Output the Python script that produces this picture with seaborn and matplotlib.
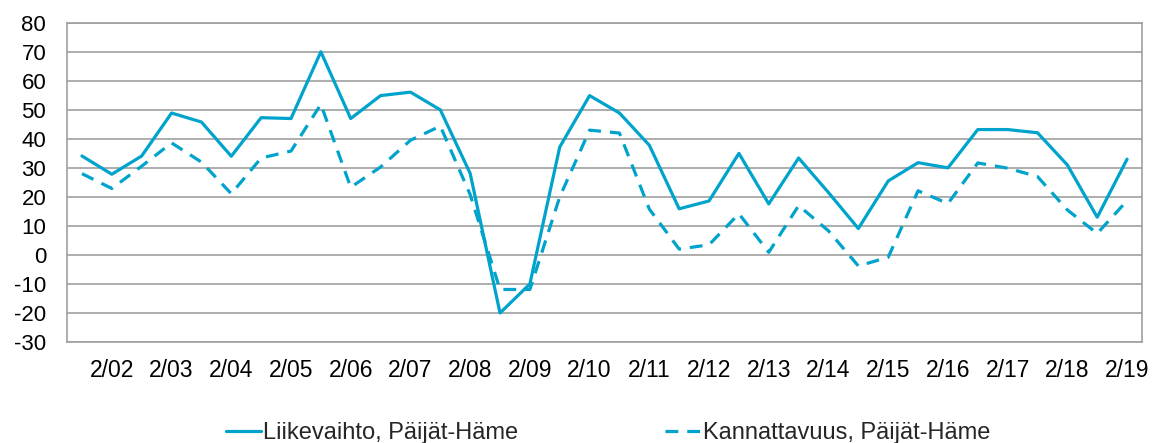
import matplotlib
matplotlib.use("Agg")
import matplotlib.pyplot as plt
import seaborn as sns
import pandas as pd

# half-year survey rounds, 8/01 ... 2/19
periods = ['8/01', '2/02', '8/02', '2/03', '8/03', '2/04', '8/04', '2/05', '8/05',
           '2/06', '8/06', '2/07', '8/07', '2/08', '8/08', '2/09', '8/09', '2/10',
           '8/10', '2/11', '8/11', '2/12', '8/12', '2/13', '8/13', '2/14', '8/14',
           '2/15', '8/15', '2/16', '8/16', '2/17', '8/17', '2/18', '8/18', '2/19']

liikevaihto = [34.1, 27.8, 34.1, 48.9, 45.8, 34.0, 47.3, 47.0, 70.0, 47.0, 54.9, 56.1,
               50.0, 28.1, -20.0, -10.0, 37.2, 54.9, 48.9, 37.8, 15.9, 18.6, 35.0, 17.6,
               33.4, 21.5, 9.1, 25.5, 31.8, 30.0, 43.2, 43.2, 42.1, 31.0, 13.0, 33.0]

kannattavuus = [28.0, 22.9, 30.6, 38.6, 32.0, 21.1, 33.4, 35.8, 51.9, 23.3, 30.3, 39.5,
                44.4, 20.8, -11.9, -11.9, 20.0, 43.0, 42.0, 15.8, 2.0, 3.5, 14.2, 0.9,
                17.0, 8.3, -3.8, -0.8, 22.1, 17.7, 31.7, 29.9, 27.0, 15.5, 7.4, 18.7]

series_names = ['Liikevaihto, Päijät-Häme', 'Kannattavuus, Päijät-Häme']

rows = []
for i, p in enumerate(periods):
    rows.append([i, p, series_names[0], liikevaihto[i]])
    rows.append([i, p, series_names[1], kannattavuus[i]])
df = pd.DataFrame(rows, columns=['idx', 'Period', 'Series', 'Value'])

sns.set_style('white')
plt.rcParams['font.family'] = ['Liberation Sans', 'DejaVu Sans']
plt.rcParams['axes.unicode_minus'] = False

color = '#00A3CC'
grid_col = '#A0A0A0'

fig = plt.figure(figsize=(11.62, 4.43), dpi=100)
ax = fig.add_axes([0.0577, 0.228, 0.9251, 0.7206])

sns.lineplot(data=df, x='idx', y='Value', style='Series', hue='Series',
             palette=[color, color], dashes={series_names[0]: '', series_names[1]: (4, 2.8)},
             linewidth=2.3, ax=ax, legend=False)

ax.set_xlim(-0.5, len(periods) - 0.5)
ax.set_ylim(-30, 80)
ax.set_yticks(range(-30, 81, 10))
ax.set_xticks(range(1, len(periods), 2))
ax.set_xticklabels(periods[1::2])
ax.set_xlabel('')
ax.set_ylabel('')

ax.yaxis.grid(True, color=grid_col, linewidth=1.2)
ax.set_axisbelow(True)
for s in ['left', 'right', 'top', 'bottom']:
    ax.spines[s].set_color(grid_col)
    ax.spines[s].set_linewidth(1.2)

ax.tick_params(axis='both', length=0, colors='black')
ax.tick_params(axis='y', pad=15, labelsize=16)
ax.tick_params(axis='x', pad=12, labelsize=16.5)

handles = [plt.Line2D([], [], color=color, lw=2.3),
           plt.Line2D([], [], color=color, lw=2.3, dashes=(4, 2.8))]
fig.legend(handles, series_names, loc='lower center', bbox_to_anchor=(0.523, -0.05),
           ncol=2, frameon=False, fontsize=17, handlelength=1.5, handletextpad=0.1,
           columnspacing=6.2)

fig.savefig('out.png', dpi=100)
